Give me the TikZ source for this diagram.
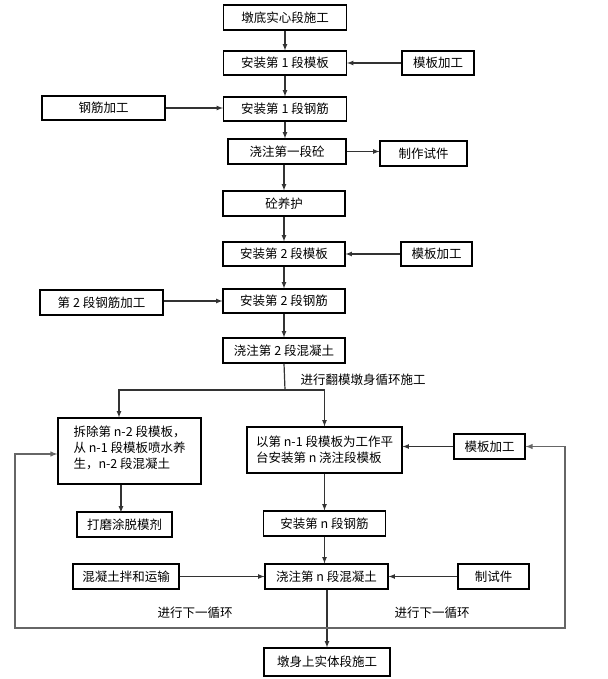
\documentclass[tikz,border=0pt]{standalone}
\usepackage{fontspec}
\setmainfont{Noto Sans CJK SC}
\usetikzlibrary{positioning, arrows, calc}

\tikzset{
	blk/.style={draw, rectangle, line width=1.1pt, text centered, inner sep=1pt, minimum height=24pt},
	lnk/.style={-latex, draw=black!80, line width=1.2pt},
	back/.style={-latex, draw=black!60, line width=1.4pt}
}

\begin{document}
\begin{tikzpicture}[x=1pt, y=-1pt, font=\fontsize{12.5pt}{16pt}\selectfont]
		\useasboundingbox (0,0) rectangle (607,679);
		% main column
		\node (Pier Base) at (285,17.5) [blk, minimum width=123pt, minimum height=25pt]{墩底实心段施工};
		\node (Form1) at (285,63) [blk, minimum width=123pt]{安装第 1 段模板};
		\node (Rebar1) at (285,109) [blk, minimum width=123pt]{安装第 1 段钢筋};
		\node (Pour1) at (287,151.5) [blk, minimum width=118pt, minimum height=25pt]{浇注第一段砼};
		\node (Cure) at (284,203.5) [blk, minimum width=122pt, minimum height=25pt]{砼养护};
		\node (Form2) at (284,254) [blk, minimum width=122pt]{安装第 2 段模板};
		\node (Rebar2) at (284,301) [blk, minimum width=122pt]{安装第 2 段钢筋};
		\node (Pour2) at (284,350.5) [blk, minimum width=122pt, minimum height=25pt]{浇注第 2 段混凝土};
		
		% side boxes
		\node (FormWork1) at (438,63) [blk, minimum width=72pt]{模板加工};
		\node (RebarWork1) at (103.5,108) [blk, minimum width=123pt]{钢筋加工};
		\node (Sample1) at (423.5,153.5) [blk, minimum width=87pt, minimum height=25pt]{制作试件};
		\node (FormWork2) at (436.5,254) [blk, minimum width=71pt]{模板加工};
		\node (RebarWork2) at (101.5,302.5) [blk, minimum width=123pt, minimum height=25pt]{第 2 段钢筋加工};
		
		% cycle
		\node (Strip) at (129.5,451) [blk, minimum width=143pt, minimum height=66pt, align=left]{拆除第 n-2 段模板，\\从 n-1 段模板喷水养\\生，n-2 段混凝土\\[-8pt]};
		\node (FormN) at (324.5,450) [blk, minimum width=155pt, minimum height=46pt, align=left]{以第 n-1 段模板为工作平\\台安装第 n 浇注段模板};
		\node (FormWork3) at (489.5,446.5) [blk, minimum width=71pt, minimum height=25pt]{模板加工};
		\node (Polish) at (124.5,524.5) [blk, minimum width=95pt, minimum height=25pt]{打磨涂脱模剂};
		\node (RebarN) at (324.5,523.5) [blk, minimum width=122pt, minimum height=25pt]{安装第 n 段钢筋};
		\node (Mix) at (126,576.5) [blk, minimum width=106pt, minimum height=25pt]{混凝土拌和运输};
		\node (PourN) at (326.5,576.5) [blk, minimum width=123pt, minimum height=25pt]{浇注第 n 段混凝土};
		\node (SampleN) at (493.5,576.5) [blk, minimum width=71pt, minimum height=25pt]{制试件};
		\node (Top) at (327,662) [blk, minimum width=126pt, minimum height=28pt]{墩身上实体段施工};
		
		\node (Scritto1) at (297,380) [anchor=west]{进行翻模墩身循环施工};
		\node (Scritto2) at (195,613) [text centered]{进行下一循环};
		\node (Scritto3) at (432,613) [text centered]{进行下一循环};
		
		\coordinate (split) at (285,390);
		\coordinate (splitL) at (119,390);
		\coordinate (splitR) at (324.5,390);
		\coordinate (loopL) at (15,628);
		\coordinate (loopR) at (565,628);
		
		\draw[lnk] (Pier Base) -- (Form1);
		\draw[lnk] (Form1) -- (Rebar1);
		\draw[lnk] (Rebar1.south) -- (Rebar1.south |- Pour1.north);
		\draw[lnk] (Pour1.south -| Cure) -- (Cure.north);
		\draw[lnk] (Cure) -- (Form2);
		\draw[lnk] (Form2) -- (Rebar2);
		\draw[lnk] (Rebar2) -- (Pour2);
		\draw[lnk] (FormWork1) -- (Form1);
		\draw[lnk] (RebarWork1.east) -- (RebarWork1.east -| Rebar1.west);
		\draw[lnk] (Pour1) -- (Pour1 -| Sample1.west);
		\draw[lnk] (FormWork2) -- (Form2);
		\draw[lnk] (RebarWork2.east |- Rebar2) -- (Rebar2.west);
		
		\draw[line width=1.2pt, draw=black!80] (Pour2.south) -- (split);
		\draw[lnk] (split) -- (splitL) -- (splitL |- Strip.north);
		\draw[lnk] (split) -- (splitR) -- (FormN.north);
		\draw[lnk] (Strip.south -| Polish.north west) ++(44.5,0) -- ++(0,28);
		\draw[lnk] (FormN) -- (RebarN);
		\draw[lnk] (RebarN.south) -- (RebarN.south |- PourN.north);
		\draw[lnk] (Mix) -- (PourN);
		\draw[lnk] (SampleN) -- (PourN);
		\draw[lnk] (FormWork3.west) -- (FormWork3.west -| FormN.east);
		\draw[lnk] (PourN.south -| Top) -- (Top.north);
		
		\draw[back] (loopR) -- (loopL) |- ([yshift=-3pt]Strip.west);
		\draw[back] (loopL) -- (loopR) |- (FormWork3.east);
\end{tikzpicture}
\end{document}
